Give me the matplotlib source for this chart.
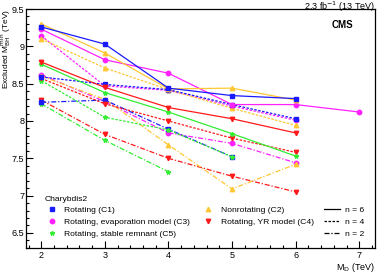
import matplotlib.pyplot as plt
from matplotlib.lines import Line2D
import numpy as np

plt.rcParams['font.family'] = ['Liberation Sans', 'DejaVu Sans']

# M_D values (TeV)
md_2to6 = [2, 3, 4, 5, 6]
md_2to7 = [2, 3, 4, 5, 6, 7]
md_2to5 = [2, 3, 4, 5]
md_2to4 = [2, 3, 4]

# Rotating (C1)
c1_n6 = [9.26, 9.03, 8.44, 8.34, 8.30]
c1_n4 = [8.59, 8.49, 8.42, 8.22, 8.03]
c1_n2 = [8.25, 8.28, 7.89, 7.52]
# Nonrotating (C2)
c2_n6 = [9.30, 8.91, 8.43, 8.44, 8.28]
c2_n4 = [9.10, 8.71, 8.42, 8.17, 7.94]
c2_n2 = [8.60, 8.29, 7.68, 7.09, 7.42]
# Rotating, evaporation model (C3)
c3_n6 = [9.23, 8.82, 8.64, 8.22, 8.22, 8.12]
c3_n4 = [9.14, 8.47, 8.41, 8.20, 8.01]
c3_n2 = [8.62, 8.26, 7.84, 7.70, 7.44]
# Rotating, YR model (C4)
c4_n6 = [8.79, 8.45, 8.18, 8.03, 7.84]
c4_n4 = [8.57, 8.23, 8.00, 7.77, 7.58]
c4_n2 = [8.28, 7.82, 7.50, 7.26, 7.05]
# Rotating, stable remnant (C5)
c5_n6 = [8.76, 8.38, 8.12, 7.83, 7.53]
c5_n4 = [8.54, 8.05, 7.88, 7.52]
c5_n2 = [8.23, 7.74, 7.32]

blue = '#1a1aff'
yellow = '#ffc733'
magenta = '#ff22ff'
red = '#ff1a1a'
green = '#33ee33'

solid = '-'
dash = (0, (2, 1.2))
dashdot = (0, (4, 1.5, 1, 1.5))

fig = plt.figure(figsize=(3.77, 2.73), dpi=100)
ax = fig.add_axes([0.069, 0.092, 0.926, 0.875])

series = [
    (md_2to4, c5_n2, green, '*', dashdot),
    (md_2to6, c4_n2, red, 'v', dashdot),
    (md_2to6, c3_n2, magenta, 'o', dashdot),
    (md_2to6, c2_n2, yellow, '^', dashdot),
    (md_2to5, c1_n2, blue, 's', dashdot),
    (md_2to5, c5_n4, green, '*', dash),
    (md_2to6, c4_n4, red, 'v', dash),
    (md_2to6, c3_n4, magenta, 'o', dash),
    (md_2to6, c2_n4, yellow, '^', dash),
    (md_2to6, c1_n4, blue, 's', dash),
    (md_2to6, c5_n6, green, '*', solid),
    (md_2to6, c4_n6, red, 'v', solid),
    (md_2to7, c3_n6, magenta, 'o', solid),
    (md_2to6, c2_n6, yellow, '^', solid),
    (md_2to6, c1_n6, blue, 's', solid),
]
for x, y, col, mk, ls in series:
    ax.plot(x, y, color=col, marker=mk, markersize=3.2, linestyle=ls, linewidth=0.9)

ax.set_xlim(1.76, 7.25)
ax.set_ylim(6.3, 9.5)
ax.set_xticks([2, 3, 4, 5, 6, 7])
ax.set_xticks(np.arange(1.8, 7.25, 0.2), minor=True)
ax.set_yticks([6.5, 7, 7.5, 8, 8.5, 9, 9.5])
ax.set_yticklabels(['6.5', '7', '7.5', '8', '8.5', '9', '9.5'])
ax.set_yticks(np.arange(6.3, 9.51, 0.1), minor=True)
ax.tick_params(which='both', direction='in', labelsize=6.5, pad=2)
ax.tick_params(axis='y', which='both', pad=1.2)
ax.tick_params(which='major', length=5, width=0.8)
ax.tick_params(which='minor', length=2.5, width=0.8)
for sp in ax.spines.values():
    sp.set_linewidth(0.9)

ax.set_xlabel(r'M$_{\rm D}$ (TeV)', fontsize=6.5, loc='right', labelpad=1)
ax.set_ylabel(r'Excluded M$_{\rm BH}^{\rm min}$ (TeV)', fontsize=6, loc='top', labelpad=1)
ax.yaxis.set_label_coords(-0.037, 1.0)

ax.text(0.937, 0.955, 'CMS', transform=ax.transAxes, fontsize=7, fontweight='bold',
        ha='right', va='top')
fig.text(0.995, 1.0, r'2.3 fb$^{-1}$ (13 TeV)', fontsize=6.5, ha='right', va='top')

def h(col, mk):
    return Line2D([], [], color=col, marker=mk, markersize=3.2, linestyle='none')

handles = [h(blue, 's'), h(magenta, 'o'), h(green, '*'),
           h(yellow, '^'), h(red, 'v'), Line2D([], [], linestyle='none'),
           Line2D([], [], color='black', linestyle=solid, linewidth=0.9),
           Line2D([], [], color='black', linestyle=dash, linewidth=0.9),
           Line2D([], [], color='black', linestyle=dashdot, linewidth=0.9)]
labels = ['Rotating (C1)', 'Rotating, evaporation model (C3)', 'Rotating, stable remnant (C5)',
          'Nonrotating (C2)', 'Rotating, YR model (C4)', '',
          'n = 6', 'n = 4', 'n = 2']
leg = ax.legend(handles, labels, ncol=3, title='Charybdis2', loc='lower left',
                bbox_to_anchor=(0.035, 0.017), frameon=False, fontsize=6.1,
                title_fontsize=6.1, handlelength=1.8, handletextpad=0.6,
                columnspacing=1.2, labelspacing=0.45, borderaxespad=0.3)
leg._legend_box.align = 'left'

fig.savefig('out.png', dpi=100)
